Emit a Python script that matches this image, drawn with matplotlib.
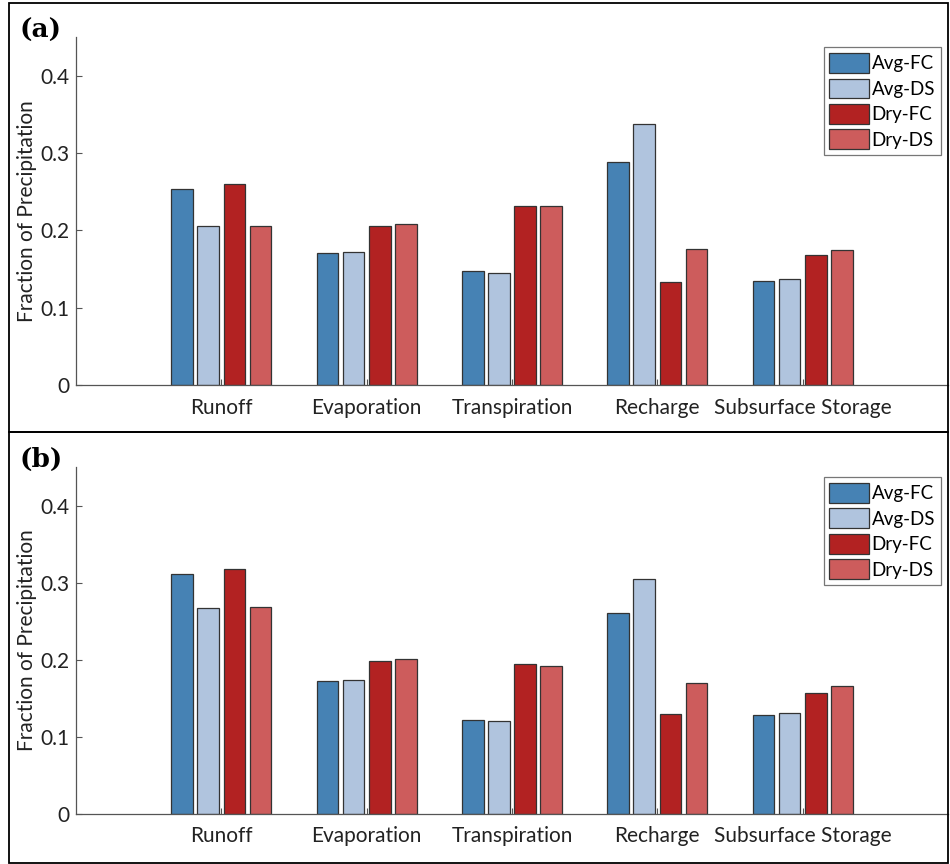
import matplotlib.pyplot as plt
from matplotlib.patches import Rectangle
import numpy as np

plt.rcParams['font.family'] = ['Lato', 'DejaVu Sans']

categories = ['Runoff', 'Evaporation', 'Transpiration', 'Recharge', 'Subsurface Storage']
series = ['Avg-FC', 'Avg-DS', 'Dry-FC', 'Dry-DS']
colors = ['#4682B4', '#B0C4DE', '#B22222', '#CD5C5C']

# fraction of precipitation, panel (a)
a_avg_fc = [0.253, 0.171, 0.147, 0.289, 0.135]
a_avg_ds = [0.205, 0.172, 0.145, 0.338, 0.137]
a_dry_fc = [0.260, 0.205, 0.232, 0.133, 0.168]
a_dry_ds = [0.206, 0.208, 0.231, 0.176, 0.175]

# fraction of precipitation, panel (b)
b_avg_fc = [0.311, 0.173, 0.122, 0.261, 0.129]
b_avg_ds = [0.267, 0.174, 0.120, 0.305, 0.131]
b_dry_fc = [0.318, 0.198, 0.194, 0.130, 0.157]
b_dry_ds = [0.268, 0.201, 0.192, 0.170, 0.166]

panels = [('(a)', [a_avg_fc, a_avg_ds, a_dry_fc, a_dry_ds]),
          ('(b)', [b_avg_fc, b_avg_ds, b_dry_fc, b_dry_ds])]

W, H = 950, 864
fig = plt.figure(figsize=(9.5, 8.64), dpi=100)

# axes boxes in pixels: left, top, right, bottom
boxes = [(76, 37, 948, 385), (76, 467, 948, 814)]
frames = [(9, 3, 948, 432), (9, 432, 948, 863)]

x = np.arange(1, len(categories) + 1)
offsets = [-0.27, -0.09, 0.09, 0.27]
width = 0.15

for (tag, data), (l, t, r, b), (fl, ft, fr, fb) in zip(panels, boxes, frames):
    fig.patches.append(Rectangle((fl / W, 1 - fb / H), (fr - fl) / W, (fb - ft) / H,
                                 transform=fig.transFigure, fill=False,
                                 edgecolor='black', linewidth=1.3))
    ax = fig.add_axes([l / W, 1 - b / H, (r - l) / W, (b - t) / H])
    for vals, off, c, name in zip(data, offsets, colors, series):
        ax.bar(x + off, vals, width, color=c, edgecolor='#333333',
               linewidth=0.9, label=name)
    ax.set_xlim(0, 6)
    ax.set_ylim(0, 0.45)
    ax.set_xticks(x)
    ax.set_xticklabels(categories, fontsize=15)
    ax.set_yticks([0, 0.1, 0.2, 0.3, 0.4])
    ax.set_yticklabels(['0', '0.1', '0.2', '0.3', '0.4'], fontsize=15)
    ax.tick_params(direction='in', length=4, color='#555555', labelcolor='#222222')
    ax.tick_params(axis='x', pad=9)
    ax.tick_params(axis='y', pad=5)
    for s in ['top', 'right']:
        ax.spines[s].set_visible(False)
    for s in ['left', 'bottom']:
        ax.spines[s].set_color('#555555')
        ax.spines[s].set_linewidth(0.9)
    ax.set_ylabel('Fraction of Precipitation', fontsize=15, color='#222222', labelpad=2)
    leg = ax.legend(loc='upper right', bbox_to_anchor=(0.9915, 0.97), fontsize=13.5,
                    frameon=True, fancybox=False, edgecolor='#555555',
                    handlelength=2.1, handleheight=1.25, handletextpad=0.15,
                    labelspacing=0.3, borderpad=0.3, borderaxespad=0)
    leg.get_frame().set_linewidth(0.9)
    fig.text(20 / W, 1 - (ft + 27) / H, tag, fontsize=19, fontweight='bold',
             family='DejaVu Serif', va='center', ha='left')

fig.savefig('out.png', dpi=100)
